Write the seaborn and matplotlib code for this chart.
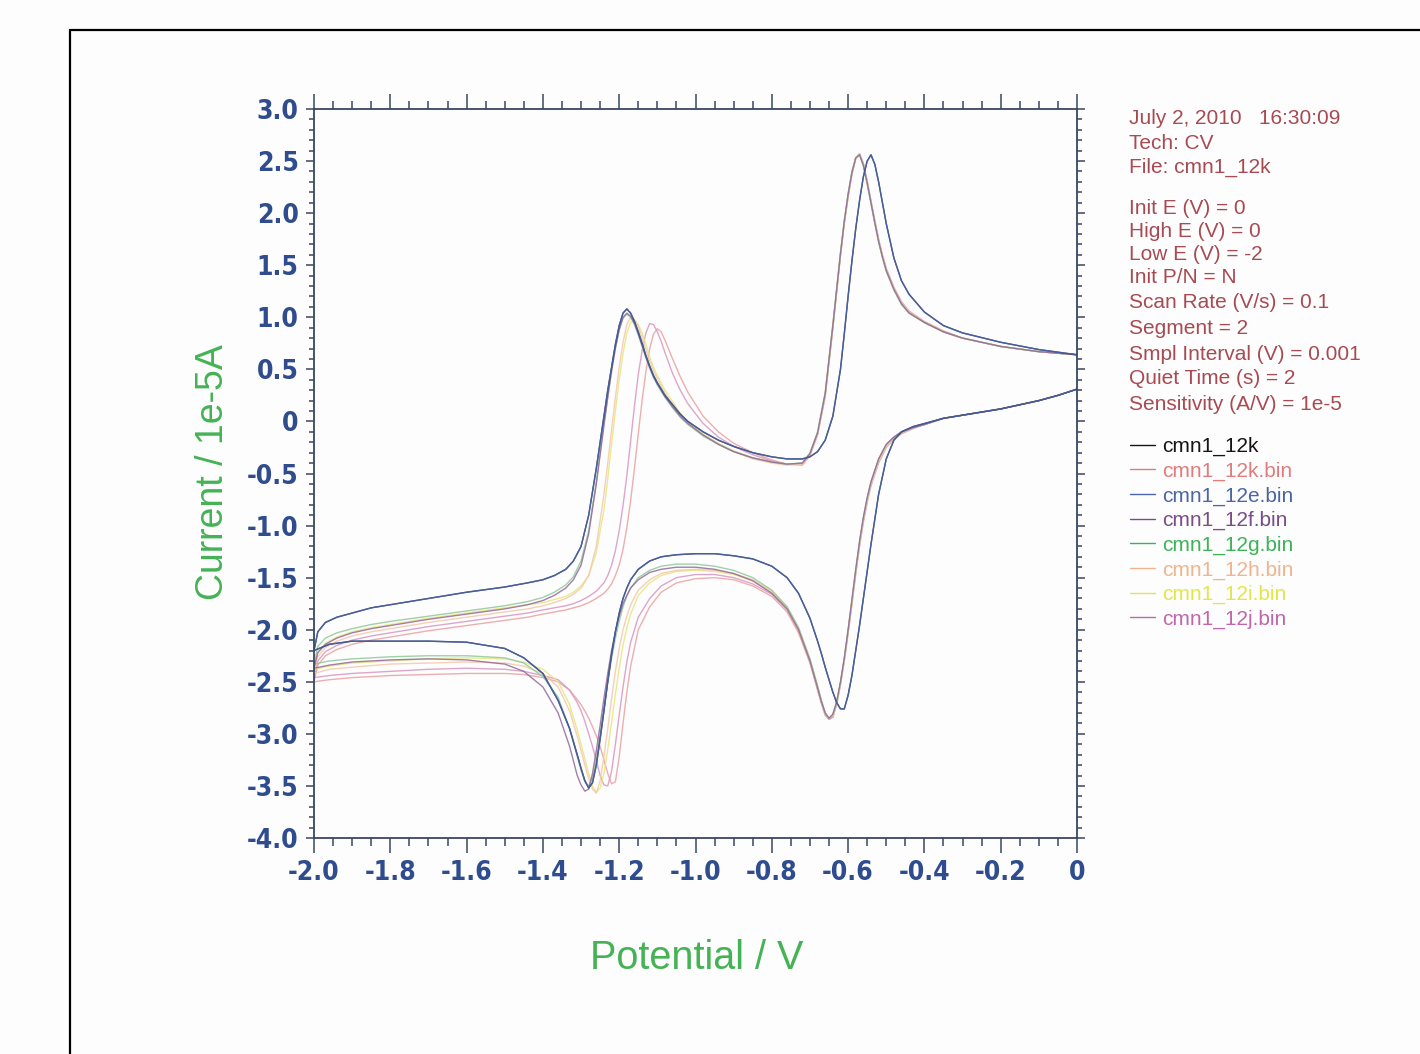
import matplotlib
matplotlib.use("Agg")
import matplotlib.pyplot as plt
from matplotlib import font_manager
from matplotlib.font_manager import FontProperties
from matplotlib.lines import Line2D
from matplotlib.ticker import MultipleLocator
import pandas as pd
import seaborn as sns

# potential grids (V): forward scan 0 -> -2, reverse scan -2 -> 0
e_down = [0.00, -0.05, -0.10, -0.15, -0.20, -0.25, -0.30, -0.35,
          -0.40, -0.43, -0.46, -0.48, -0.50, -0.52,
          -0.54, -0.55, -0.56, -0.57, -0.58, -0.59, -0.60, -0.61, -0.62, -0.63, -0.64, -0.65, -0.66, -0.67, -0.68,
          -0.70, -0.73, -0.76,
          -0.80, -0.85, -0.90, -0.95, -1.00, -1.05, -1.09, -1.12,
          -1.15, -1.17, -1.18, -1.19, -1.20, -1.21, -1.22, -1.23, -1.24, -1.25, -1.26, -1.27, -1.28,
          -1.29, -1.30, -1.31, -1.33, -1.36,
          -1.40, -1.45, -1.50, -1.60, -1.70, -1.80, -1.90, -1.96, -2.00]
e_up = [-2.00, -1.99, -1.97, -1.94, -1.90, -1.85, -1.80, -1.70, -1.60, -1.50, -1.44,
        -1.40, -1.37, -1.34, -1.32, -1.30, -1.28, -1.26, -1.24,
        -1.23, -1.22, -1.21, -1.20, -1.19, -1.18, -1.17, -1.16, -1.15, -1.14, -1.13, -1.12, -1.11, -1.10, -1.09, -1.08,
        -1.06, -1.04, -1.02, -0.98, -0.94, -0.90, -0.85, -0.80, -0.76, -0.72,
        -0.70, -0.68, -0.66, -0.64, -0.62,
        -0.61, -0.60, -0.59, -0.58, -0.57, -0.56, -0.55, -0.54, -0.53, -0.52, -0.51, -0.50,
        -0.48, -0.46, -0.44, -0.40, -0.35, -0.30, -0.20, -0.10, 0.00]

# currents (1e-5 A)
i_down_e = [0.31, 0.25, 0.20, 0.16, 0.12, 0.09, 0.06, 0.03,
            -0.02, -0.05, -0.10, -0.18, -0.36, -0.70,
            -1.18, -1.44, -1.70, -1.96, -2.20, -2.44, -2.63, -2.76, -2.76, -2.70, -2.60, -2.48, -2.36, -2.23, -2.11,
            -1.89, -1.65, -1.50,
            -1.39, -1.32, -1.29, -1.27, -1.27, -1.28, -1.30, -1.34,
            -1.42, -1.52, -1.60, -1.70, -1.84, -2.02, -2.24, -2.50, -2.78, -3.05, -3.30, -3.47, -3.52,
            -3.45, -3.33, -3.20, -2.95, -2.68,
            -2.42, -2.27, -2.18, -2.12, -2.11, -2.11, -2.11, -2.14, -2.20]
i_up_e = [-2.20, -2.02, -1.93, -1.88, -1.84, -1.79, -1.76, -1.70, -1.64, -1.59, -1.55,
          -1.52, -1.48, -1.42, -1.34, -1.20, -0.90, -0.45, 0.05,
          0.30, 0.52, 0.74, 0.92, 1.04, 1.08, 1.04, 0.96, 0.86, 0.75, 0.63, 0.53, 0.44, 0.37, 0.31, 0.25,
          0.16, 0.07, 0.00, -0.10, -0.18, -0.24, -0.30, -0.34, -0.36, -0.36,
          -0.34, -0.29, -0.18, 0.05, 0.50,
          0.84, 1.20, 1.54, 1.85, 2.12, 2.35, 2.50, 2.56, 2.47, 2.30, 2.10, 1.90,
          1.57, 1.35, 1.22, 1.05, 0.92, 0.85, 0.76, 0.69, 0.64]

i_down_k = i_down_e
i_up_k = i_up_e

i_down_f = [0.31, 0.25, 0.20, 0.16, 0.12, 0.09, 0.06, 0.03,
            -0.03, -0.06, -0.10, -0.15, -0.22, -0.36,
            -0.58, -0.73, -0.92, -1.15, -1.42, -1.71, -2.00, -2.27, -2.50, -2.69, -2.81, -2.85, -2.80, -2.69, -2.56,
            -2.30, -2.00, -1.80,
            -1.65, -1.53, -1.46, -1.42, -1.40, -1.40, -1.42, -1.45,
            -1.52, -1.60, -1.67, -1.75, -1.87, -2.02, -2.20, -2.42, -2.66, -2.92, -3.16, -3.38, -3.53,
            -3.55, -3.49, -3.40, -3.12, -2.80,
            -2.55, -2.40, -2.33, -2.29, -2.28, -2.29, -2.31, -2.34, -2.37]
i_up_f = [-2.37, -2.22, -2.14, -2.08, -2.03, -1.99, -1.96, -1.90, -1.85, -1.80, -1.76,
          -1.72, -1.67, -1.60, -1.52, -1.38, -1.08, -0.60, -0.04,
          0.23, 0.48, 0.70, 0.88, 1.00, 1.04, 1.01, 0.94, 0.84, 0.73, 0.62, 0.52, 0.43, 0.36, 0.30, 0.24,
          0.14, 0.05, -0.02, -0.13, -0.22, -0.29, -0.35, -0.39, -0.41, -0.40,
          -0.31, -0.11, 0.27, 0.92, 1.61,
          1.92, 2.18, 2.39, 2.53, 2.56, 2.46, 2.29, 2.10, 1.91, 1.73, 1.58, 1.45,
          1.27, 1.13, 1.04, 0.95, 0.86, 0.80, 0.72, 0.67, 0.64]

i_down_g = [0.31, 0.25, 0.20, 0.16, 0.12, 0.09, 0.06, 0.03,
            -0.03, -0.06, -0.10, -0.15, -0.22, -0.36,
            -0.58, -0.74, -0.93, -1.16, -1.43, -1.72, -2.01, -2.28, -2.51, -2.70, -2.82, -2.85, -2.80, -2.68, -2.54,
            -2.28, -1.98, -1.78,
            -1.62, -1.50, -1.43, -1.39, -1.37, -1.37, -1.39, -1.43,
            -1.50, -1.60, -1.68, -1.78, -1.92, -2.08, -2.28, -2.50, -2.75, -3.00, -3.24, -3.42, -3.50,
            -3.46, -3.35, -3.22, -2.95, -2.65,
            -2.45, -2.32, -2.27, -2.25, -2.25, -2.26, -2.28, -2.30, -2.33]
i_up_g = [-2.33, -2.16, -2.08, -2.03, -1.99, -1.95, -1.92, -1.87, -1.82, -1.77, -1.73,
          -1.69, -1.64, -1.57, -1.49, -1.34, -1.05, -0.58, -0.02,
          0.24, 0.50, 0.71, 0.88, 0.99, 1.03, 1.00, 0.93, 0.83, 0.72, 0.61, 0.51, 0.42, 0.35, 0.29, 0.23,
          0.13, 0.04, -0.03, -0.14, -0.22, -0.29, -0.35, -0.39, -0.41, -0.40,
          -0.30, -0.10, 0.28, 0.93, 1.62,
          1.93, 2.19, 2.40, 2.53, 2.56, 2.45, 2.28, 2.09, 1.90, 1.72, 1.57, 1.44,
          1.26, 1.12, 1.04, 0.95, 0.86, 0.80, 0.72, 0.67, 0.64]

i_down_h = [0.31, 0.25, 0.20, 0.16, 0.12, 0.09, 0.06, 0.03,
            -0.03, -0.06, -0.11, -0.16, -0.24, -0.38,
            -0.60, -0.76, -0.95, -1.18, -1.45, -1.74, -2.02, -2.29, -2.52, -2.71, -2.83, -2.85, -2.80, -2.68, -2.54,
            -2.28, -1.98, -1.78,
            -1.63, -1.52, -1.46, -1.43, -1.42, -1.43, -1.46, -1.52,
            -1.62, -1.76, -1.87, -2.00, -2.18, -2.40, -2.66, -2.95, -3.22, -3.45, -3.57, -3.53, -3.43,
            -3.30, -3.16, -3.02, -2.78, -2.55,
            -2.42, -2.35, -2.32, -2.31, -2.32, -2.33, -2.36, -2.38, -2.42]
i_up_h = [-2.42, -2.26, -2.17, -2.11, -2.06, -2.02, -1.99, -1.93, -1.88, -1.83, -1.80,
          -1.77, -1.74, -1.70, -1.66, -1.60, -1.48, -1.20, -0.70,
          -0.40, -0.08, 0.23, 0.52, 0.76, 0.93, 1.00, 0.98, 0.91, 0.80, 0.69, 0.58, 0.49, 0.41, 0.34, 0.27,
          0.16, 0.06, -0.01, -0.13, -0.22, -0.29, -0.36, -0.40, -0.42, -0.41,
          -0.32, -0.12, 0.25, 0.90, 1.60,
          1.91, 2.16, 2.38, 2.53, 2.57, 2.47, 2.30, 2.11, 1.92, 1.74, 1.59, 1.46,
          1.28, 1.14, 1.05, 0.95, 0.86, 0.80, 0.72, 0.67, 0.64]

i_down_i = [0.31, 0.25, 0.20, 0.16, 0.12, 0.09, 0.06, 0.03,
            -0.03, -0.06, -0.10, -0.15, -0.23, -0.37,
            -0.59, -0.75, -0.93, -1.17, -1.43, -1.73, -2.01, -2.28, -2.51, -2.70, -2.82, -2.85, -2.81, -2.69, -2.56,
            -2.30, -2.00, -1.80,
            -1.64, -1.53, -1.47, -1.44, -1.43, -1.44, -1.48, -1.55,
            -1.67, -1.85, -1.98, -2.15, -2.37, -2.62, -2.89, -3.15, -3.38, -3.52, -3.56, -3.50, -3.38,
            -3.24, -3.10, -2.96, -2.72, -2.50,
            -2.38, -2.31, -2.28, -2.27, -2.28, -2.30, -2.32, -2.35, -2.38]
i_up_i = [-2.38, -2.22, -2.13, -2.07, -2.02, -1.98, -1.95, -1.89, -1.84, -1.79, -1.76,
          -1.74, -1.71, -1.68, -1.64, -1.58, -1.48, -1.26, -0.85,
          -0.55, -0.22, 0.10, 0.40, 0.65, 0.85, 0.95, 0.97, 0.93, 0.85, 0.74, 0.62, 0.52, 0.44, 0.37, 0.30,
          0.19, 0.08, 0.00, -0.12, -0.21, -0.28, -0.35, -0.39, -0.41, -0.40,
          -0.31, -0.11, 0.26, 0.92, 1.61,
          1.92, 2.17, 2.39, 2.53, 2.56, 2.46, 2.29, 2.10, 1.91, 1.73, 1.58, 1.45,
          1.27, 1.13, 1.04, 0.95, 0.86, 0.80, 0.72, 0.67, 0.64]

i_down_j = [0.31, 0.25, 0.20, 0.16, 0.12, 0.09, 0.06, 0.03,
            -0.03, -0.06, -0.11, -0.16, -0.24, -0.38,
            -0.60, -0.76, -0.95, -1.18, -1.45, -1.74, -2.02, -2.29, -2.52, -2.71, -2.84, -2.86, -2.82, -2.70, -2.57,
            -2.31, -2.01, -1.81,
            -1.66, -1.56, -1.50, -1.47, -1.47, -1.50, -1.58, -1.70,
            -1.88, -2.12, -2.31, -2.55, -2.82, -3.10, -3.36, -3.50, -3.49, -3.40, -3.26, -3.12, -3.00,
            -2.88, -2.78, -2.70, -2.58, -2.48,
            -2.44, -2.40, -2.38, -2.37, -2.38, -2.40, -2.42, -2.44, -2.46]
i_up_j = [-2.46, -2.30, -2.21, -2.15, -2.10, -2.06, -2.03, -1.97, -1.92, -1.87, -1.84,
          -1.81, -1.79, -1.77, -1.75, -1.72, -1.68, -1.63, -1.55,
          -1.48, -1.38, -1.24, -1.05, -0.81, -0.52, -0.19, 0.15, 0.45, 0.68, 0.85, 0.94, 0.93, 0.86, 0.77, 0.66,
          0.46, 0.30, 0.17, -0.02, -0.15, -0.24, -0.32, -0.38, -0.41, -0.41,
          -0.32, -0.12, 0.25, 0.90, 1.60,
          1.91, 2.16, 2.38, 2.53, 2.57, 2.47, 2.30, 2.11, 1.92, 1.74, 1.59, 1.46,
          1.28, 1.14, 1.05, 0.95, 0.86, 0.80, 0.72, 0.67, 0.64]

i_down_kb = [0.31, 0.25, 0.20, 0.16, 0.12, 0.09, 0.06, 0.03,
             -0.03, -0.07, -0.12, -0.17, -0.25, -0.40,
             -0.62, -0.78, -0.97, -1.20, -1.47, -1.76, -2.04, -2.30, -2.53, -2.72, -2.84, -2.86, -2.82, -2.71, -2.58,
             -2.32, -2.03, -1.83,
             -1.68, -1.58, -1.52, -1.50, -1.51, -1.55, -1.64, -1.78,
             -2.00, -2.35, -2.60, -2.90, -3.22, -3.46, -3.48, -3.38, -3.25, -3.12, -3.02, -2.93, -2.85,
             -2.78, -2.72, -2.67, -2.58, -2.50,
             -2.46, -2.43, -2.42, -2.42, -2.43, -2.44, -2.46, -2.48, -2.50]
i_up_kb = [-2.50, -2.34, -2.25, -2.19, -2.14, -2.10, -2.07, -2.01, -1.96, -1.91, -1.88,
           -1.85, -1.83, -1.81, -1.79, -1.77, -1.74, -1.70, -1.65,
           -1.61, -1.56, -1.48, -1.38, -1.23, -1.02, -0.76, -0.45, -0.12, 0.20, 0.48, 0.70, 0.84, 0.89, 0.86, 0.78,
           0.60, 0.43, 0.28, 0.05, -0.10, -0.21, -0.30, -0.37, -0.41, -0.42,
           -0.33, -0.13, 0.24, 0.89, 1.59,
           1.90, 2.15, 2.37, 2.52, 2.57, 2.48, 2.31, 2.12, 1.93, 1.75, 1.60, 1.47,
           1.29, 1.15, 1.06, 0.96, 0.87, 0.80, 0.72, 0.67, 0.64]

files = ["cmn1_12k", "cmn1_12k.bin", "cmn1_12e.bin", "cmn1_12f.bin",
         "cmn1_12g.bin", "cmn1_12h.bin", "cmn1_12i.bin", "cmn1_12j.bin"]
down_scans = [i_down_k, i_down_kb, i_down_e, i_down_f, i_down_g, i_down_h, i_down_i, i_down_j]
up_scans = [i_up_k, i_up_kb, i_up_e, i_up_f, i_up_g, i_up_h, i_up_i, i_up_j]

line_colors = ["#2e2e40", "#eba0a0", "#4562ad", "#94689a", "#8fc99a", "#f3c8a8", "#e6e680", "#d896c2"]
text_colors = ["#151515", "#e27c7c", "#4a66a8", "#7a4c88", "#3db257", "#f0b48e", "#e2e646", "#c166aa"]

info_lines = ["July 2, 2010   16:30:09", "Tech: CV", "File: cmn1_12k",
              "Init E (V) = 0", "High E (V) = 0", "Low E (V) = -2", "Init P/N = N",
              "Scan Rate (V/s) = 0.1", "Segment = 2", "Smpl Interval (V) = 0.001",
              "Quiet Time (s) = 2", "Sensitivity (A/V) = 1e-5"]
info_y_px = [118, 143, 167, 208, 231, 254, 278, 302, 328, 354, 379, 404]

x_ticks = [-2.0, -1.8, -1.6, -1.4, -1.2, -1.0, -0.8, -0.6, -0.4, -0.2, 0.0]
x_tick_labels = ["-2.0", "-1.8", "-1.6", "-1.4", "-1.2", "-1.0", "-0.8", "-0.6", "-0.4", "-0.2", "0"]
y_ticks = [3.0, 2.5, 2.0, 1.5, 1.0, 0.5, 0.0, -0.5, -1.0, -1.5, -2.0, -2.5, -3.0, -3.5, -4.0]
y_tick_labels = ["3.0", "2.5", "2.0", "1.5", "1.0", "0.5", "0", "-0.5", "-1.0", "-1.5",
                 "-2.0", "-2.5", "-3.0", "-3.5", "-4.0"]

frames = []
for name, d, u in zip(files, down_scans, up_scans):
    frames.append(pd.DataFrame({"E": e_down + e_up, "I": d + u, "file": name}))
df = pd.concat(frames, ignore_index=True)

sns.set_style("ticks")
plt.rcParams["font.family"] = ["Liberation Sans", "DejaVu Sans"]

# narrow bold face for the tick numbers if one is installed
narrow = [f.fname for f in font_manager.fontManager.ttflist
          if ("Narrow" in f.name or "Condensed" in f.fname) and "Bold" in f.fname
          and "Oblique" not in f.fname and "Italic" not in f.fname]
if narrow:
    tick_fp = FontProperties(fname=narrow[0], size=19)
else:
    tick_fp = FontProperties(family="Liberation Sans", weight="bold", size=16.5)

W, H = 1420, 1054
paper = "#fdfdfd"
fig = plt.figure(figsize=(W / 100, H / 100), dpi=100, facecolor=paper)
ax = fig.add_axes([314 / W, 1 - 838 / H, 763 / W, 729 / H])
ax.set_facecolor(paper)

draw_order = ["cmn1_12k.bin", "cmn1_12j.bin", "cmn1_12i.bin", "cmn1_12h.bin",
              "cmn1_12g.bin", "cmn1_12f.bin", "cmn1_12k", "cmn1_12e.bin"]
palette = dict(zip(files, line_colors))
sns.lineplot(data=df, x="E", y="I", hue="file", hue_order=draw_order, palette=palette,
             sort=False, estimator=None, legend=False, linewidth=1.0, alpha=0.85, ax=ax)

ax.set_xlim(-2.0, 0.0)
ax.set_ylim(-4.0, 3.0)
ax.set_xlabel("")
ax.set_ylabel("")

ax.set_xticks(x_ticks, x_tick_labels, fontproperties=tick_fp, color="#2e4c8e")
ax.set_yticks(y_ticks, y_tick_labels, fontproperties=tick_fp, color="#2e4c8e")
ax.xaxis.set_minor_locator(MultipleLocator(0.05))
ax.yaxis.set_minor_locator(MultipleLocator(0.1))

axis_col = "#3a4762"
for s in ax.spines.values():
    s.set_color(axis_col)
    s.set_linewidth(1.3)
ax.tick_params(which="both", direction="out", top=True, right=True, color=axis_col, width=1.1)
ax.tick_params(axis="x", which="major", length=10.5, pad=5)
ax.tick_params(axis="x", which="minor", length=5.5)
ax.tick_params(axis="y", which="major", length=6, pad=5)
ax.tick_params(axis="y", which="minor", length=3.5)

green = "#45b255"
fig.text(213 / W, 1 - 472 / H, "Current / 1e-5A", rotation=90, ha="center", va="center",
         fontsize=27, color=green)
fig.text(697 / W, 1 - 958 / H, "Potential / V", ha="center", va="center",
         fontsize=28.5, color=green)

for line, ypx in zip(info_lines, info_y_px):
    fig.text(1129 / W, 1 - ypx / H, line, ha="left", va="center", fontsize=15, color="#a84a52")

handles = [Line2D([], [], color=c, lw=1.0) for c in text_colors]
leg = ax.legend(handles, files, loc="upper left", bbox_to_anchor=(1130 / W, 1 - 437 / H),
                bbox_transform=fig.transFigure, frameon=False, fontsize=15,
                borderpad=0, borderaxespad=0, handlelength=1.2, handletextpad=0.35,
                labelspacing=0.26)
for txt, c in zip(leg.get_texts(), text_colors):
    txt.set_color(c)

# page border of the scanned sheet
fig.add_artist(Line2D([70 / W, 1.0], [1 - 30 / H, 1 - 30 / H], color="black", lw=1.6,
                      transform=fig.transFigure))
fig.add_artist(Line2D([70 / W, 70 / W], [0.0, 1 - 30 / H], color="black", lw=1.6,
                      transform=fig.transFigure))

fig.savefig("out.png", dpi=100, facecolor=paper)
